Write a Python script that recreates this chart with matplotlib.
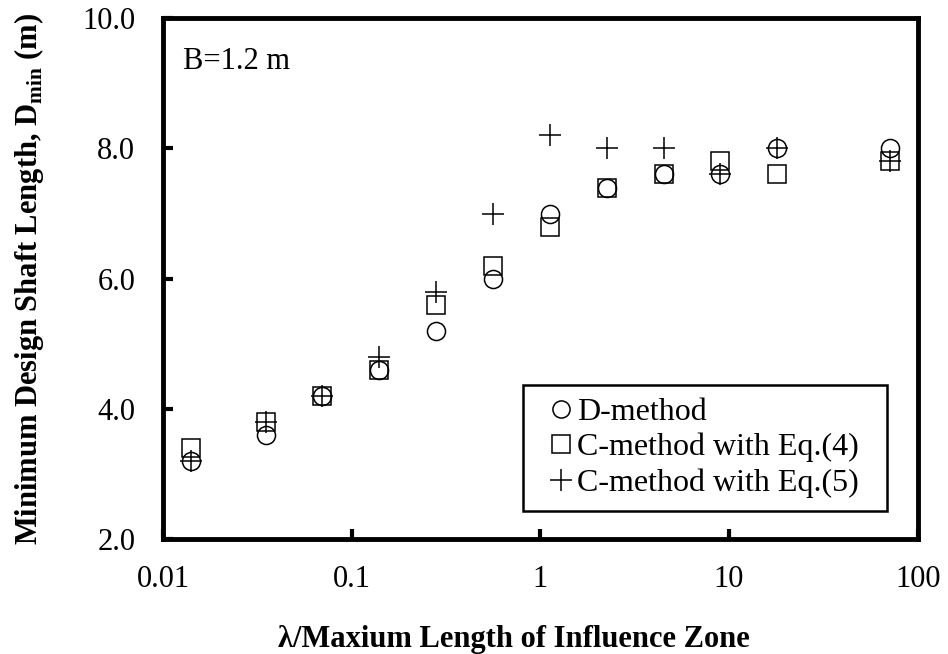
import numpy as np
import matplotlib
matplotlib.use('Agg')
import matplotlib.pyplot as plt
from matplotlib.patches import Rectangle

plt.rcParams['font.family'] = 'Liberation Serif'
plt.rcParams['mathtext.fontset'] = 'custom'
plt.rcParams['mathtext.rm'] = 'Liberation Serif'
plt.rcParams['mathtext.bf'] = 'Liberation Serif:bold'

# lambda / max length of influence zone
ratio = [0.014, 0.035, 0.07, 0.14, 0.28, 0.56, 1.12, 2.25, 4.5, 9.0, 18.0, 71.0]
d_method = [3.2, 3.6, 4.2, 4.6, 5.2, 6.0, 7.0, 7.4, 7.6, 7.6, 8.0, 8.0]
c_eq4 = [3.4, 3.8, 4.2, 4.6, 5.6, 6.2, 6.8, 7.4, 7.6, 7.8, 7.6, 7.8]
c_eq5 = [3.2, 3.8, 4.2, 4.8, 5.8, 7.0, 8.2, 8.0, 8.0, 7.6, 8.0, 7.8]

fig = plt.figure(figsize=(9.48, 6.54), dpi=100)
ax = fig.add_axes([0.172, 0.176, 0.796, 0.796])

ax.plot(ratio, d_method, ls='none', marker='o', ms=13, mfc='none', mec='black', mew=1.1, label='D-method')
ax.plot(ratio, c_eq4, ls='none', marker='s', ms=13.5, mfc='none', mec='black', mew=1.1, label='C-method with Eq.(4)')
ax.plot(ratio, c_eq5, ls='none', marker='+', ms=16, mec='black', mew=1.1, label='C-method with Eq.(5)')

ax.set_xscale('log')
ax.set_xlim(0.01, 100)
ax.set_ylim(2.0, 10.0)
ax.set_xticks([0.01, 0.1, 1, 10, 100])
ax.set_xticklabels(['0.01', '0.1', '1', '10', '100'])
ax.xaxis.set_minor_locator(matplotlib.ticker.NullLocator())
ax.set_yticks([2, 4, 6, 8, 10])
ax.set_yticklabels(['2.0', '4.0', '6.0', '8.0', '10.0'])
ax.tick_params(axis='both', which='major', direction='in', length=7, width=3, labelsize=22)
ax.tick_params(axis='x', pad=19)
ax.tick_params(axis='y', pad=20)

for s in ax.spines.values():
    s.set_linewidth(3.5)

ax.set_xlabel('λ/Maxium Length of Influence Zone', fontsize=22, fontweight='bold', labelpad=20)
ax.xaxis.set_label_coords(0.465, -0.165)
ax.set_ylabel(r'Minimum Design Shaft Length, D$_{\mathbf{min}}$ (m)', fontsize=22, fontweight='bold', labelpad=26)

ax.text(0.0128, 9.34, 'B=1.2 m', fontsize=22, va='center')

# legend box
ax.add_patch(Rectangle((0.477, 0.054), 0.483, 0.242, transform=ax.transAxes, fill=False,
                       edgecolor='black', linewidth=1.8, zorder=5))
leg = ax.legend(loc='center', bbox_to_anchor=(0.718, 0.175), fontsize=23, frameon=False,
                markerscale=0.95, handlelength=0.6, handletextpad=0.2,
                labelspacing=0.18, borderpad=0.2)

fig.savefig('out.png', dpi=100)
